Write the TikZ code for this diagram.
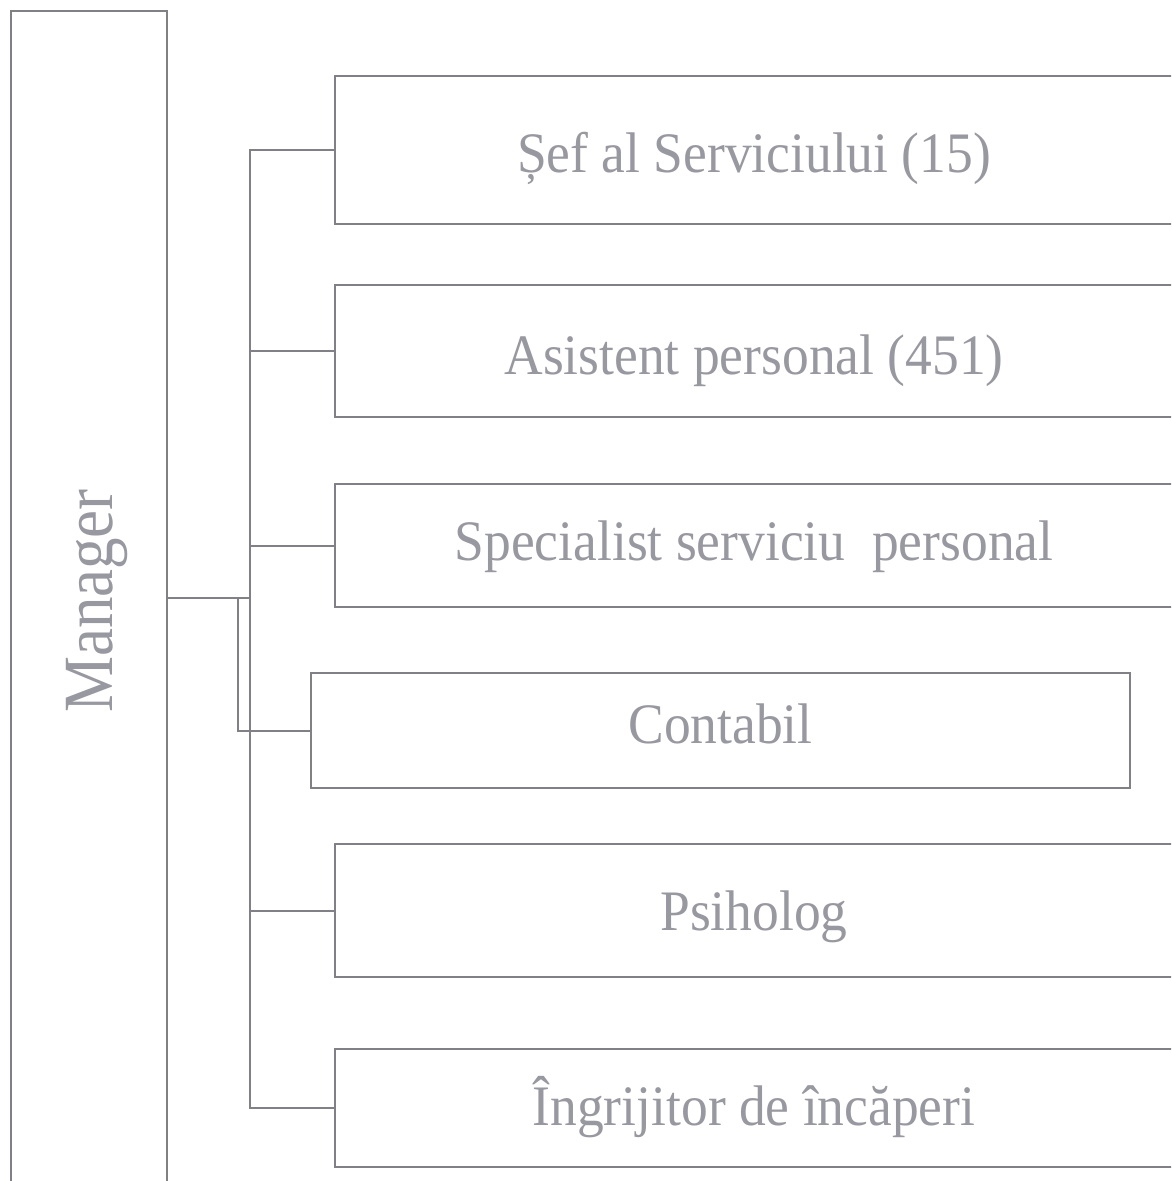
\documentclass[tikz,border=0pt]{standalone}
\usepackage{fontspec}
\setmainfont{Liberation Serif}
\usepackage{graphicx}
\usepackage{xcolor}
\usetikzlibrary{positioning,calc}
\definecolor{scangray}{RGB}{128,128,134}
\definecolor{inkgray}{RGB}{152,152,160}
\newcommand{\tallbox}[1]{\scalebox{1}[1.07]{#1}}
\newcommand{\tallmgr}[1]{\scalebox{1}[1.12]{#1}}
\tikzset{
  box/.style={draw=scangray, line width=2pt, align=center, text=inkgray,
              font=\fontsize{53.5}{58}\selectfont, inner sep=0pt, text depth=0pt},
  mgr/.style={draw=scangray, line width=2pt, align=center, text=inkgray,
              font=\fontsize{63}{68}\selectfont, inner sep=0pt, text depth=0pt},
  link/.style={draw=scangray, line width=2pt}
}
\begin{document}
\begin{tikzpicture}[x=1pt,y=-1pt]
  \clip (0,0) rectangle (1171,1181);
  \fill[white] (0,0) rectangle (1171,1181);

  \node[mgr, rotate=90, minimum width=1180pt, minimum height=156pt, text height=46pt] (manager) at (89,601) {\tallmgr{Manager}};

  \node[box, minimum width=838pt, minimum height=148pt, text height=44pt] (sef) at (754,150) {\tallbox{Șef al Serviciului (15)}};
  \node[box, minimum width=838pt, minimum height=132pt, text height=47pt] (asist) at (754,351) {\tallbox{Asistent personal (451)}};
  \node[box, minimum width=838pt, minimum height=123pt, text height=29pt] (spec) at (754,545.5) {\tallbox{Specialist serviciu\ \ personal}};
  \node[box, minimum width=819pt, minimum height=115pt, text height=25pt] (cont) at (720.5,730.5) {\tallbox{Contabil}};
  \node[box, minimum width=838pt, minimum height=133pt, text height=39pt] (psih) at (754,910.5) {\tallbox{Psiholog}};
  \node[box, minimum width=838pt, minimum height=118pt, text height=34pt] (ingr) at (754,1108) {\tallbox{Îngrijitor de încăperi}};

  \coordinate (bus) at (250,0);
  \coordinate (side) at (238,0);

  \draw[link] (sef.west) -| (bus |- ingr.west) -- (ingr.west);
  \draw[link] (asist.west) -- (asist.west -| bus);
  \draw[link] (spec.west) -- (spec.west -| bus);
  \draw[link] (psih.west) -- (psih.west -| bus);
  \draw[link] ([yshift=3pt]manager.south) -- ([yshift=3pt]manager.south -| bus);
  \draw[link] ([yshift=3pt]manager.south -| side) |- (cont.west);
\end{tikzpicture}
\end{document}
